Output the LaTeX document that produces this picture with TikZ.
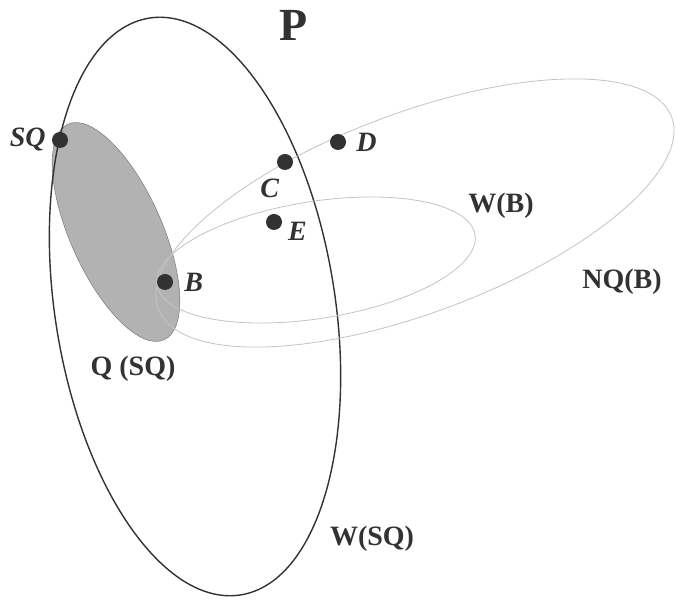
\documentclass[tikz,border=0pt]{standalone}
\usepackage{fontspec}
\setmainfont{Liberation Serif}
\usetikzlibrary{positioning}
\definecolor{mInk}{RGB}{50,50,50}
\definecolor{mShade}{RGB}{178,178,178}
\definecolor{mThin}{RGB}{195,195,195}
\tikzset{
pt/.style={circle,fill=mInk,inner sep=0pt,minimum size=16pt},
ptlabel/.style={font=\fontsize{28}{28}\selectfont\bfseries\itshape,text=mInk,inner sep=0pt},
setlabel/.style={font=\fontsize{28}{28}\selectfont\bfseries,text=mInk,inner sep=0pt},
outer/.style={draw=mInk,line width=1.4pt},
inner/.style={draw=mThin,line width=0.8pt}
}

\begin{document}
\begin{tikzpicture}[x=1pt,y=1pt]
\useasboundingbox (0,0) rectangle (676,599);
% shaded region Q(SQ)
\fill[mShade,draw=mInk!60,line width=0.6pt,rotate around={24:(116,367)}] (116,367) ellipse[x radius=46,y radius=118];
% the three sets
\draw[outer,rotate around={9:(195,292.5)}] (195,292.5) ellipse[x radius=140,y radius=292];
\draw[inner,rotate around={9:(316,339)}] (316,339) ellipse[x radius=161,y radius=58.5];
\draw[inner,rotate around={20.5:(415,386)}] (415,386) ellipse[x radius=274,y radius=100];
% points
\node[pt] (sq) at (60,459) {};
\node[pt] (b) at (165,317) {};
\node[pt] (c) at (285,437) {};
\node[pt] (d) at (338,457) {};
\node[pt] (e) at (274,377) {};
\node[ptlabel,left=6pt of sq] {SQ};
\node[ptlabel,right=11pt of b] {B};
\node[ptlabel,below left=11pt and 0pt of c] {C};
\node[ptlabel,right=10pt of d] {D};
\node[ptlabel,below right=-6pt and 8pt of e] {E};
% set names
\node[setlabel,font=\fontsize{46}{46}\selectfont\bfseries] (p) at (294,574) {P};
\node[setlabel] (wb) at (501,393) {W(B)};
\node[setlabel] (nqb) at (622,317) {NQ(B)};
\node[setlabel] (qsq) at (133,230) {Q (SQ)};
\node[setlabel] (wsq) at (372,60) {W(SQ)};
\end{tikzpicture}
\end{document}
